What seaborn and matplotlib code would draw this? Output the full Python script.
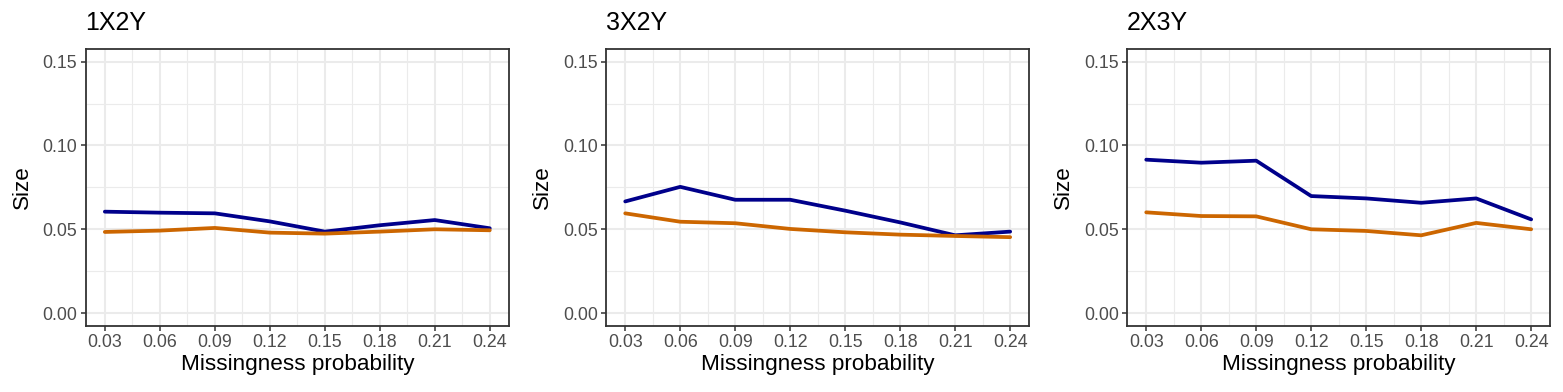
import numpy as np
import pandas as pd
import matplotlib
matplotlib.use("Agg")
import matplotlib.pyplot as plt
import seaborn as sns

sns.set_theme(style="white")
plt.rcParams["font.family"] = ["Liberation Sans", "DejaVu Sans"]

# Data
probs = [0.03, 0.06, 0.09, 0.12, 0.15, 0.18, 0.21, 0.24]
panels = ["1X2Y", "3X2Y", "2X3Y"]

blue_1x2y = [0.0605, 0.0599, 0.0595, 0.0547, 0.0486, 0.0524, 0.0555, 0.0506]
orange_1x2y = [0.0484, 0.0492, 0.0508, 0.0480, 0.0474, 0.0486, 0.0500, 0.0494]

blue_3x2y = [0.0666, 0.0753, 0.0676, 0.0676, 0.0611, 0.0541, 0.0464, 0.0486]
orange_3x2y = [0.0595, 0.0545, 0.0536, 0.0502, 0.0482, 0.0468, 0.0460, 0.0453]

blue_2x3y = [0.0915, 0.0897, 0.0909, 0.0698, 0.0684, 0.0658, 0.0684, 0.0559]
orange_2x3y = [0.0601, 0.0579, 0.0577, 0.0500, 0.0490, 0.0464, 0.0538, 0.0500]

series = {
    "1X2Y": (blue_1x2y, orange_1x2y),
    "3X2Y": (blue_3x2y, orange_3x2y),
    "2X3Y": (blue_2x3y, orange_2x3y),
}

rows = []
for panel, (b, o) in series.items():
    for p, v in zip(probs, b):
        rows.append({"panel": panel, "prob": p, "size": v, "method": "A"})
    for p, v in zip(probs, o):
        rows.append({"panel": panel, "prob": p, "size": v, "method": "B"})
df = pd.DataFrame(rows)

palette = {"A": "#00008B", "B": "#CC6600"}

W, H = 1563, 392
fig = plt.figure(figsize=(W / 100, H / 100), dpi=100)

lefts = [85.6, 606, 1127]
ax_w = 423.4
top, bottom = 49, 325.7

for left, panel in zip(lefts, panels):
    ax = fig.add_axes([left / W, 1 - bottom / H, ax_w / W, (bottom - top) / H])
    sub = df[df["panel"] == panel]
    sns.lineplot(data=sub, x="prob", y="size", hue="method", palette=palette,
                 linewidth=2.7, legend=False, ax=ax)

    ax.set_xlim(0.0195, 0.2505)
    ax.set_ylim(-0.0075, 0.1575)
    ax.set_xticks(probs)
    ax.set_xticklabels([f"{p:.2f}" for p in probs])
    ax.set_yticks([0.0, 0.05, 0.10, 0.15])
    ax.set_yticklabels(["0.00", "0.05", "0.10", "0.15"])
    ax.set_xticks([0.045, 0.075, 0.105, 0.135, 0.165, 0.195, 0.225], minor=True)
    ax.set_yticks([0.025, 0.075, 0.125], minor=True)

    ax.grid(which="major", color="#EBEBEB", linewidth=1.5)
    ax.grid(which="minor", color="#EBEBEB", linewidth=0.8)
    ax.set_axisbelow(True)
    for s in ax.spines.values():
        s.set_color("#333333")
        s.set_linewidth(1.3)

    ax.tick_params(which="major", length=3.5, width=1.1, color="#333333",
                   labelsize=12.8, labelcolor="#4D4D4D", pad=2.5,
                   bottom=True, left=True)
    ax.tick_params(which="minor", length=0)

    ax.set_xlabel("Missingness probability", fontsize=16.2, color="black", labelpad=2)
    ax.set_ylabel("Size", fontsize=16.2, color="black", labelpad=7)
    ax.set_title(panel, loc="left", fontsize=18, color="black", pad=14)

fig.savefig("out.png", dpi=100)
